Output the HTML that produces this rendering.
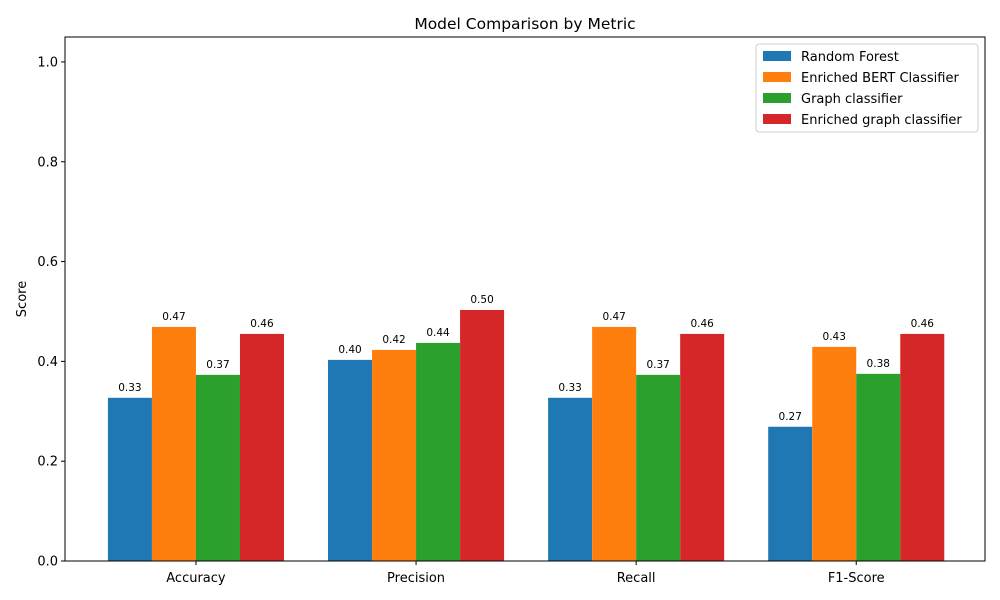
<!DOCTYPE html>
<html><head><meta charset="utf-8"><style>
body{margin:0;background:#fff;}
svg{display:block;font-family:"DejaVu Sans","Liberation Sans",sans-serif;}
</style></head><body>
<svg id="chart" width="1000" height="600"></svg>
<script>
const categories = ["Accuracy","Precision","Recall","F1-Score"];
const seriesNames = ["Random Forest","Enriched BERT Classifier","Graph classifier","Enriched graph classifier"];
const rfValues = [0.327,0.403,0.327,0.269];
const bertValues = [0.469,0.423,0.469,0.429];
const graphValues = [0.373,0.437,0.373,0.375];
const enrichedGraphValues = [0.455,0.503,0.455,0.455];
const yTicks = [0.0,0.2,0.4,0.6,0.8,1.0];
const colors = ["#1f77b4","#ff7f0e","#2ca02c","#d62728"];
const series = [rfValues,bertValues,graphValues,enrichedGraphValues];

const L=65,R=985,T=37,B=561;
const xMin=-0.595,xMax=3.585,yMin=0,yMax=1.05;
const xs=v=>L+(v-xMin)/(xMax-xMin)*(R-L);
const ys=v=>B-(v-yMin)/(yMax-yMin)*(B-T);
const svg=document.getElementById('chart');
const NS="http://www.w3.org/2000/svg";
function mk(tag,attrs,parent){const e=document.createElementNS(NS,tag);for(const k in attrs)e.setAttribute(k,attrs[k]);(parent||svg).appendChild(e);return e;}

const bw=0.2;
series.forEach((vals,si)=>{
  const g=mk('g',{});
  
  
  vals.forEach((v,ci)=>{
    const xc=ci+(si-1.5)*bw;
    const x0=xs(xc-bw/2),x1=xs(xc+bw/2);
    const r=mk('rect',{x:x0,y:ys(v),width:x1-x0,height:ys(0)-ys(v),fill:colors[si]},g);
    
    
    const t=mk('text',{x:xs(xc),y:ys(v)-7,'text-anchor':'middle','font-size':'10.5',fill:'#000'},g);
    t.textContent=v.toFixed(2);
    
    
  });
});

const frame=mk('rect',{x:L,y:T,width:R-L,height:B-T,fill:'none',stroke:'#000','stroke-width':1});



yTicks.forEach(v=>{
  mk('line',{x1:L-4,x2:L,y1:ys(v),y2:ys(v),stroke:'#000'});
  const t=mk('text',{x:L-7,y:ys(v)+4.5,'text-anchor':'end','font-size':'13'});
  t.textContent=v.toFixed(1);
  
  
});
categories.forEach((c,i)=>{
  mk('line',{x1:xs(i),x2:xs(i),y1:B,y2:B+4,stroke:'#000'});
  const t=mk('text',{x:xs(i),y:B+21,'text-anchor':'middle','font-size':'13'});
  t.textContent=c;
  
  
});
const yt=mk('text',{x:0,y:0,'text-anchor':'middle','font-size':'13',transform:`translate(26,${(T+B)/2}) rotate(-90)`});
yt.textContent='Score';


const title=mk('text',{x:(L+R)/2,y:29,'text-anchor':'middle','font-size':'15.5'});
title.textContent='Model Comparison by Metric';



const lg=mk('g',{});


mk('rect',{x:756,y:44,width:222,height:88,rx:3,fill:'#fff','fill-opacity':0.8,stroke:'#ccc'},lg);
seriesNames.forEach((n,i)=>{
  const y=56+i*21;
  const e=mk('g',{},lg);
  
  
  mk('rect',{x:763,y:y-5,width:28,height:10,fill:colors[i]},e);
  const t=mk('text',{x:801,y:y+5,'font-size':'13'},e);
  t.textContent=n;
});
</script>
</body></html>
